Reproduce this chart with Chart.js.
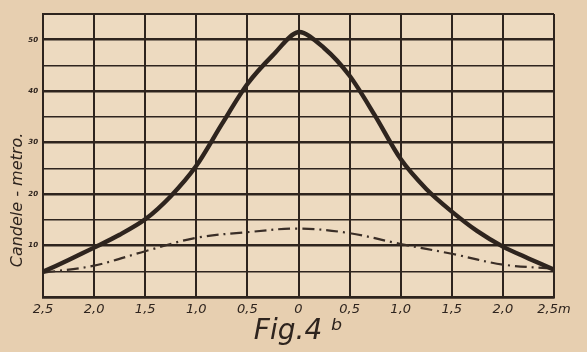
<!DOCTYPE html>
<html>
<head>
<meta charset="utf-8">
<script src="https://cdn.jsdelivr.net/npm/chart.js@4/dist/chart.umd.min.js"></script>
<style>
  html, body { margin: 0; padding: 0; background: #e7cfb0; }
  #wrap { width: 587px; height: 352px; }
</style>
</head>
<body>
<div id="wrap"><canvas id="chart" width="587" height="352"></canvas></div>
<script>
// distanza dal centro (m) e illuminamento (candele-metro)
const solidX = [-2.5, -2.25, -2, -1.75, -1.5, -1.25, -1, -0.75, -0.5, -0.25, 0, 0.25, 0.5, 0.75, 1, 1.25, 1.5, 1.75, 2, 2.25, 2.5];
const solidY = [4.9, 7.2, 9.6, 12.1, 15.1, 19.6, 25.5, 33.6, 41.4, 47.0, 51.5, 48.4, 43.0, 35.2, 26.8, 21.0, 16.6, 12.8, 9.8, 7.5, 5.3];
const dashX = [-2.5, -2, -1.5, -1, -0.5, 0, 0.5, 1, 1.5, 2, 2.5];
const dashY = [4.7, 6.1, 8.9, 11.5, 12.6, 13.3, 12.4, 10.3, 8.4, 6.3, 5.5];
const xTicks = ['2,5', '2,0', '1,5', '1,0', '0,5', '0', '0,5', '1,0', '1,5', '2,0', '2,5m'];
const yLabels = [10, 20, 30, 40, 50];

const ink = '#2e241e';
const hand = 'DejaVu Sans';

const pairs = (xs, ys) => xs.map((x, i) => ({ x: x, y: ys[i] }));

// sfondo carta un po' più chiaro dentro il reticolo
const paperPlugin = {
    id: 'paper',
    beforeDraw(chart) {
        const { ctx, chartArea: a } = chart;
        ctx.save();
        ctx.fillStyle = '#eddac0';
        ctx.fillRect(a.left, a.top, a.right - a.left, a.bottom - a.top);
        ctx.restore();
    }
};

// scritta verticale a sinistra
const yTitlePlugin = {
    id: 'yTitle',
    afterDraw(chart) {
        const { ctx } = chart;
        ctx.save();
        ctx.translate(18, 200);
        ctx.rotate(-Math.PI / 2);
        ctx.font = 'italic 16px "' + hand + '"';
        ctx.fillStyle = ink;
        ctx.textAlign = 'center';
        ctx.textBaseline = 'middle';
        ctx.fillText('Candele - metro.', 0, 0);
        ctx.restore();
    }
};

new Chart(document.getElementById('chart'), {
    type: 'line',
    data: {
        datasets: [
            {
                data: pairs(solidX, solidY),
                borderColor: ink,
                borderWidth: 4.4,
                pointRadius: 0,
                tension: 0.3,
                borderCapStyle: 'round',
                borderJoinStyle: 'round'
            },
            {
                data: pairs(dashX, dashY),
                borderColor: '#3a2e27',
                borderWidth: 2.2,
                borderDash: [12, 5, 2, 5],
                pointRadius: 0,
                tension: 0.35
            }
        ]
    },
    options: {
        responsive: false,
        animation: false,
        layout: { padding: { top: 14, right: 33, left: 0, bottom: 0 } },
        plugins: { legend: { display: false }, tooltip: { enabled: false } },
        scales: {
            x: {
                type: 'linear',
                min: -2.5,
                max: 2.5,
                afterFit: s => { s.height = 55; },
                afterBuildTicks: s => {
                    s.ticks = xTicks.map((_, i) => ({ value: -2.5 + i * 0.5 }));
                },
                ticks: {
                    autoSkip: false,
                    maxRotation: 0,
                    padding: 5,
                    color: ink,
                    font: { family: hand, style: 'italic', size: 13 },
                    callback: (v, i) => xTicks[i]
                },
                grid: { color: ink, lineWidth: 2, drawTicks: false },
                border: { color: ink, width: 2.5 },
                title: {
                    display: true,
                    text: 'Fig.4 ᵇ',
                    color: ink,
                    padding: { top: 0, bottom: 3 },
                    font: { family: hand, style: 'italic', size: 28 }
                }
            },
            y: {
                min: 0,
                max: 55,
                afterFit: s => { s.width = 43; },
                ticks: {
                    stepSize: 5,
                    padding: 5,
                    color: ink,
                    font: { family: hand, style: 'italic', size: 7, weight: 'bold' },
                    callback: v => yLabels.includes(v) ? String(v) : ''
                },
                grid: {
                    color: ink,
                    drawTicks: false,
                    lineWidth: c => c.tick.value % 10 === 0 ? 2.6 : (c.tick.value === 55 ? 2 : 1.4)
                },
                border: { color: ink, width: 2 }
            }
        }
    },
    plugins: [paperPlugin, yTitlePlugin]
});
</script>
</body>
</html>
